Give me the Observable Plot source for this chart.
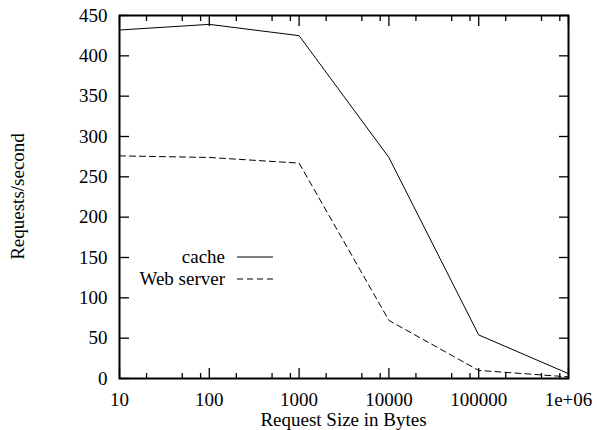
<!DOCTYPE html>
<html>
<head>
<meta charset="utf-8">
<script src="https://cdn.jsdelivr.net/npm/d3@7"></script>
<script src="https://cdn.jsdelivr.net/npm/@observablehq/plot@0.6"></script>
<style>
  html, body { margin: 0; padding: 0; background: white; }
</style>
</head>
<body>
<div id="chart"></div>
<script>
// ---- data ----
const requestSizes = [10, 100, 1000, 10000, 100000, 1000000];
const cacheRps = [432, 439, 425, 274, 54, 6];
const webServerRps = [276, 274, 267, 72, 10, 2];
const seriesNames = ["cache", "Web server"];

const xMajorTicks = [10, 100, 1000, 10000, 100000, 1000000];
const xTickLabels = ["10", "100", "1000", "10000", "100000", "1e+06"];
const xMinorTicks = [20, 50, 80, 200, 500, 800, 2000, 5000, 8000, 20000, 50000, 80000, 200000, 500000, 800000];
const yTicks = [0, 50, 100, 150, 200, 250, 300, 350, 400, 450];

const xTitle = "Request Size in Bytes";
const yTitle = "Requests/second";

const cacheData = requestSizes.map((s, i) => ({size: s, rps: cacheRps[i]}));
const webData = requestSizes.map((s, i) => ({size: s, rps: webServerRps[i]}));

const W = 597, H = 430;
const mL = 119, mR = 29, mT = 15, mB = 52;
const font = "'Liberation Serif', 'Times New Roman', serif";
const blank = () => "";

const chart = Plot.plot({
  width: W,
  height: H,
  marginLeft: mL,
  marginRight: mR,
  marginTop: mT,
  marginBottom: mB,
  style: {fontFamily: font, fontSize: "19px", background: "white", color: "black"},
  x: {type: "log", domain: [10, 1000000]},
  y: {domain: [0, 450]},
  marks: [
    // inward ticks, y (left + right)
    Plot.axisY(yTicks, {anchor: "left", tickSize: 10, dx: 10, tickFormat: blank, label: null, strokeWidth: 1.3}),
    Plot.axisY(yTicks, {anchor: "right", tickSize: 10, dx: -10, tickFormat: blank, label: null, strokeWidth: 1.3}),
    Plot.axisY(yTicks, {anchor: "left", tickSize: 0, tickPadding: 12, label: null, fontSize: 19}),
    // inward ticks, x (bottom + top), major and minor
    Plot.axisX(xMajorTicks, {anchor: "bottom", tickSize: 10, dy: -10, tickFormat: blank, label: null, strokeWidth: 1.3}),
    Plot.axisX(xMajorTicks, {anchor: "top", tickSize: 10, dy: 10, tickFormat: blank, label: null, strokeWidth: 1.3}),
    Plot.axisX(xMinorTicks, {anchor: "bottom", tickSize: 5, dy: -5, tickFormat: blank, label: null, strokeWidth: 1.3}),
    Plot.axisX(xMinorTicks, {anchor: "top", tickSize: 5, dy: 5, tickFormat: blank, label: null, strokeWidth: 1.3}),
    Plot.axisX(xMajorTicks, {anchor: "bottom", tickSize: 0, tickPadding: 13.5, label: null, fontSize: 19,
      tickFormat: (d) => xTickLabels[xMajorTicks.indexOf(d)]}),
    // data
    Plot.line(cacheData, {x: "size", y: "rps", stroke: "black", strokeWidth: 1}),
    Plot.line(webData, {x: "size", y: "rps", stroke: "black", strokeWidth: 1, strokeDasharray: "6,4"}),
    Plot.frame({stroke: "black", strokeWidth: 2})
  ]
});

document.getElementById("chart").appendChild(chart);

// titles and key (pixel layout, not data)
const svg = d3.select(chart);
svg.append("text")
  .attr("x", (mL + W - mR) / 2).attr("y", 425.5)
  .attr("text-anchor", "middle")
  .style("font-family", font).style("font-size", "19px").attr("fill", "black")
  .text(xTitle);
svg.append("text")
  .attr("transform", `translate(18,${(mT + H - mB) / 2}) rotate(-90)`)
  .attr("text-anchor", "middle").attr("dy", "0.32em")
  .style("font-family", font).style("font-size", "19px").attr("fill", "black")
  .text(yTitle);

const key = svg.append("g");
seriesNames.forEach((name, i) => {
  const yMid = 257 + i * 22;
  key.append("text")
    .attr("x", 225).attr("y", yMid).attr("dy", "0.32em")
    .attr("text-anchor", "end")
    .style("font-family", font).style("font-size", "19px").attr("fill", "black")
    .text(name);
  key.append("line")
    .attr("x1", 237).attr("x2", 273).attr("y1", yMid).attr("y2", yMid)
    .attr("stroke", "black").attr("stroke-width", 1)
    .attr("stroke-dasharray", i === 1 ? "6,4" : null);
});
</script>
</body>
</html>
